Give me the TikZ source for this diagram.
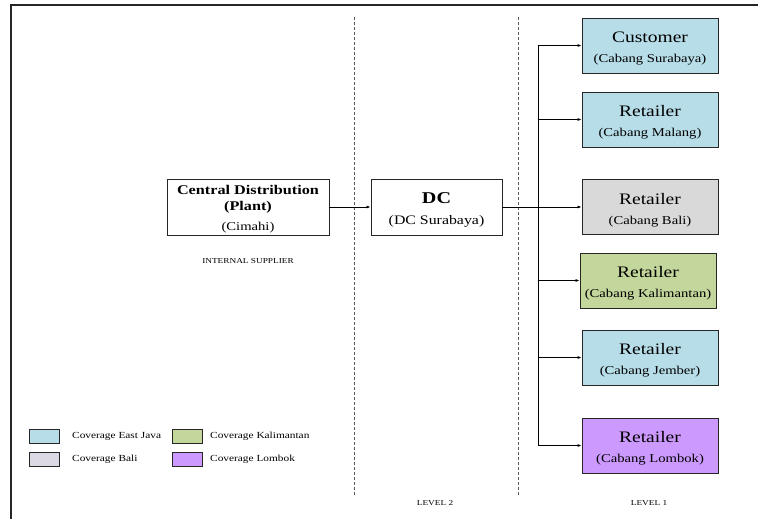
\documentclass[tikz,border=0pt]{standalone}
\usepackage{fontspec}
\setmainfont{Liberation Serif}[FakeStretch=1.22]
\usetikzlibrary{arrows.meta}
\definecolor{cblue}{HTML}{B7DDE8}
\definecolor{cgray}{HTML}{D9D9D9}
\definecolor{cgreen}{HTML}{C3D69B}
\definecolor{cpurple}{HTML}{CC99FF}
\definecolor{clav}{HTML}{DDD9E4}
\begin{document}
\begin{tikzpicture}[x=1pt,y=-1pt,
  box/.style={draw=black!85,line width=0.9pt,minimum width=136pt,minimum height=55pt,align=center,inner sep=0pt},
  conn/.style={line width=0.7pt,-{Latex[length=4pt,width=3pt]}},
  swatch/.style={draw=black!85,line width=0.8pt,minimum width=30pt,minimum height=14pt,inner sep=0pt},
  legtext/.style={font=\fontsize{9.3}{10}\selectfont,anchor=west,inner sep=0pt},
  lvl/.style={font=\fontsize{7.6}{8}\selectfont,inner sep=0pt},
  divider/.style={draw=black!65,line width=1pt,dash pattern=on 3pt off 2pt}]
\useasboundingbox (0,0) rectangle (758,519);
% frame
\draw[line width=1.4pt,black!85] (11,519) -- (11,5) -- (758,5);
% dividers
\coordinate (d1t) at (354,17); \coordinate (d1b) at (354,495);
\coordinate (d2t) at (518,17); \coordinate (d2b) at (518,495);
\draw[divider] (d1t) -- (d1b);
\draw[divider] (d2t) -- (d2b);
% plant and DC
\node[box,minimum width=162pt,minimum height=56pt,font=\fontsize{13.3}{16}\selectfont] (plant) at (248,207)
  {\rule{0pt}{13pt}{\bfseries Central Distribution}\\
   {\bfseries (Plant)}\\[4pt]
   {\fontsize{12}{14}\selectfont (Cimahi)}};
\node[box,minimum width=131pt,minimum height=56pt,font=\fontsize{13}{21}\selectfont] (dc) at (436.5,207)
  {\rule{0pt}{17pt}{\fontsize{16.5}{18}\selectfont\bfseries DC}\\
   (DC Surabaya)};
\node[lvl] (isup) at (248,261) {INTERNAL SUPPLIER};
\node[lvl] (lv2) at (435,503) {LEVEL 2};
\node[lvl] (lv1) at (649,503) {LEVEL 1};
% retailers
\newcommand{\rtext}[2]{\rule{0pt}{17pt}{\fontsize{16}{18}\selectfont #1}\\#2}
\tikzset{rbox/.style={box,font=\fontsize{12}{20}\selectfont}}
\node[rbox,fill=cblue] (r1) at (650,45.5) {\rtext{Customer}{(Cabang Surabaya)}};
\node[rbox,fill=cblue] (r2) at (650,119.5) {\rtext{Retailer}{(Cabang Malang)}};
\node[rbox,fill=cgray] (r3) at (650,207) {\rtext{Retailer}{(Cabang Bali)}};
\node[rbox,fill=cgreen] (r4) at (648,280.5) {\rtext{Retailer}{(Cabang Kalimantan)}};
\node[rbox,fill=cblue] (r5) at (650,357.5) {\rtext{Retailer}{(Cabang Jember)}};
\node[rbox,fill=cpurple] (r6) at (650,445.5) {\rtext{Retailer}{(Cabang Lombok)}};
% connectors
\draw[conn] (plant.east) -- (dc.west);
\coordinate (bt) at (538,45.5);
\coordinate (bb) at (538,445.5);
\draw[line width=0.9pt] (bt) -- (bb);
\draw[line width=0.7pt] (dc.east) -- (538,207);
\foreach \r in {r1,r2,r3,r4,r5,r6}{
  \draw[conn] (bt |- \r.west) -- (\r.west);
}
% legend
\node[swatch,fill=cblue] (s1) at (44,436) {};
\node[legtext] (t1) at (72,436) {Coverage East Java};
\node[swatch,fill=clav] (s2) at (44,459) {};
\node[legtext] (t2) at (72,459) {Coverage Bali};
\node[swatch,fill=cgreen] (s3) at (187.5,436) {};
\node[legtext] (t3) at (210,436) {Coverage Kalimantan};
\node[swatch,fill=cpurple] (s4) at (187.5,459) {};
\node[legtext] (t4) at (210,459) {Coverage Lombok};
\end{tikzpicture}
\end{document}
